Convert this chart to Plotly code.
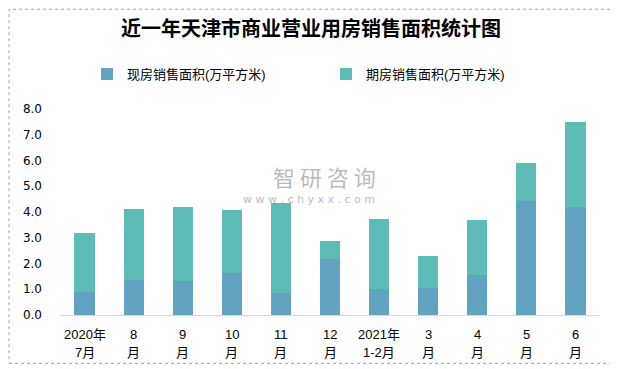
import plotly.graph_objects as go

categories = ["2020年<br>7月", "8<br>月", "9<br>月", "10<br>月", "11<br>月", "12<br>月",
              "2021年<br>1-2月", "3<br>月", "4<br>月", "5<br>月", "6<br>月"]
spot_sales = [0.90, 1.35, 1.31, 1.62, 0.85, 2.16, 1.00, 1.04, 1.54, 4.43, 4.20]
futures_sales = [2.30, 2.77, 2.89, 2.46, 3.50, 0.73, 2.74, 1.27, 2.16, 1.46, 3.31]
series_names = ["现房销售面积(万平方米)", "期房销售面积(万平方米)"]
y_ticks = [0, 1, 2, 3, 4, 5, 6, 7, 8]

# the page body has an 8px default margin: work in page pixels, then shift
OFF = 8
PAGE_W, PAGE_H = 618, 369
W, H = PAGE_W - OFF, PAGE_H - OFF
plot_left, plot_right, plot_top, plot_bottom = 59.5, 600, 108.5, 315
L = plot_left - OFF
R = PAGE_W - plot_right
T = plot_top - OFF
B = PAGE_H - plot_bottom
pw, ph = W - L - R, H - T - B

def px_x(x):  # page x -> paper x
    return (x - OFF - L) / pw

def px_y(y):  # page y -> paper y
    return (H - B - (y - OFF)) / ph

def cx(x):  # page x -> container fraction
    return (x - OFF) / W

def cy(y):  # page y -> container fraction
    return 1 - (y - OFF) / H

cjk = "Noto Sans CJK SC"
mixed = "Liberation Sans, Noto Sans CJK SC"

fig = go.Figure()
fig.add_trace(go.Bar(x=categories, y=spot_sales, name=series_names[0], legend="legend",
                     marker=dict(color="#62a3c1", line=dict(width=0))))
fig.add_trace(go.Bar(x=categories, y=futures_sales, name=series_names[1], legend="legend2",
                     marker=dict(color="#5dbcb5", line=dict(width=0))))

legend_common = dict(orientation="h", xref="container", yref="container",
                     xanchor="left", yanchor="middle", y=cy(74),
                     itemwidth=30, bgcolor="rgba(0,0,0,0)",
                     font=dict(family=mixed, size=13, color="#000000"))

# two-line category labels drawn under each bar
tick_annotations = []
for cat in categories:
    lines = cat.split("<br>")
    for i, ln in enumerate(lines):
        tick_annotations.append(dict(
            text=ln, xref="x", yref="paper", x=cat, y=px_y(335 + 18 * i),
            xanchor="center", yanchor="middle", showarrow=False,
            font=dict(family=mixed, size=13, color="#000000")))

fig.update_layout(
    width=W, height=H,
    barmode="stack", bargap=0.59,
    margin=dict(l=L, r=R, t=T, b=B, autoexpand=False),
    paper_bgcolor="white", plot_bgcolor="white",
    font=dict(family=mixed, size=13, color="#000000"),
    showlegend=True,
    title=dict(text="<b>近一年天津市商业营业用房销售面积统计图</b>",
               x=cx(311), xanchor="center", y=cy(29), yanchor="middle",
               font=dict(family=cjk, size=20, color="#000000")),
    legend=dict(x=cx(87), **legend_common),
    legend2=dict(x=cx(326), **legend_common),
    xaxis=dict(showgrid=False, showline=True, linecolor="#d9d9d9", linewidth=1,
               ticks="", showticklabels=False, fixedrange=True),
    yaxis=dict(range=[0, 8], tickvals=y_ticks, ticktext=[f"{v:.1f}" for v in y_ticks],
               showgrid=False, showline=False, zeroline=False, ticks="",
               tickfont=dict(family="DejaVu Sans", size=12, color="#000000"),
               ticklabelstandoff=17, fixedrange=True),
    shapes=[dict(type="rect", xref="paper", yref="paper",
                 x0=px_x(OFF + 0.5), x1=px_x(612.5), y0=px_y(363.5), y1=px_y(OFF + 0.5),
                 line=dict(color="#a0a0a0", width=1, dash="dot"),
                 fillcolor="rgba(0,0,0,0)", layer="below")],
    annotations=tick_annotations + [
        dict(text="智 研 咨 询", xref="paper", yref="paper", x=px_x(324), y=px_y(176),
             xanchor="center", yanchor="middle", showarrow=False,
             font=dict(family=cjk, size=22, color="rgba(140,140,140,0.6)")),
        dict(text="w w w . c h y x x . c o m", xref="paper", yref="paper", x=px_x(309), y=px_y(199),
             xanchor="center", yanchor="middle", showarrow=False,
             font=dict(family="DejaVu Sans", size=11, color="rgba(140,140,140,0.6)")),
    ],
)

fig.write_html("out.html")
